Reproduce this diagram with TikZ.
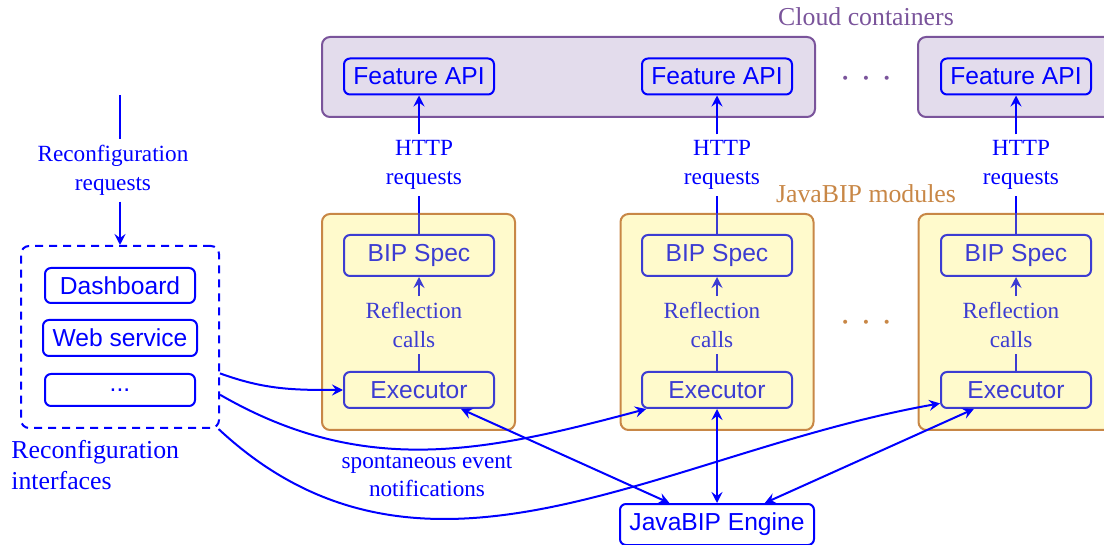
\documentclass[tikz,border=0pt]{standalone}
\usepackage{fontspec}
\setmainfont{Liberation Serif}
\newfontfamily\boxfont{Liberation Sans}
\usetikzlibrary{arrows.meta}
\definecolor{mblue}{RGB}{0,0,255}
\definecolor{inblue}{RGB}{60,60,210}
\definecolor{cfill}{RGB}{227,220,236}
\definecolor{cdraw}{RGB}{122,84,155}
\definecolor{jfill}{RGB}{255,250,204}
\definecolor{jdraw}{RGB}{200,135,70}
\begin{document}
\begin{tikzpicture}[x=0.5pt,y=-0.5pt,
  lbl/.style={font=\fontsize{11.6}{14.2}\selectfont, text=mblue, align=center, inner sep=3pt},
  hdr/.style={font=\fontsize{12.9}{15}\selectfont, inner sep=0pt},
  dots/.style={font=\fontsize{17}{17}\selectfont, inner sep=0pt},
  sbox/.style={draw=mblue, text=mblue, line width=1pt, rounded corners=3pt,
    font=\boxfont\fontsize{12.3}{14.6}\selectfont, minimum width=75pt, minimum height=18pt, inner sep=0pt},
  ibox/.style={sbox, draw=inblue, text=inblue, fill=jfill},
  cont/.style={draw=cdraw, fill=cfill, line width=1pt, rounded corners=4pt, minimum height=40pt, inner sep=0pt},
  modbox/.style={draw=jdraw, fill=jfill, line width=1pt, rounded corners=4pt, minimum width=96.5pt, minimum height=108pt, inner sep=0pt},
  ln/.style={draw=mblue, line width=1pt},
  tip/.tip={Stealth[length=5.5pt,width=5.5pt,inset=2pt]},
  arr/.style={ln, -tip},
  darr/.style={ln, tip-tip}
]
\useasboundingbox (0,0) rectangle (1104,545);
\clip (0,0) rectangle (1104,545);

% cloud containers
\node[cont, minimum width=246.5pt] (cont1) at (568.5,77) {};
\node[cont, minimum width=97pt] (cont2) at (1015,77) {};
\node[hdr, text=cdraw] (cloudlbl) at (866,17) {Cloud containers};
\node[dots, text=cdraw] (clouddots) at (866,83) {·\hspace{4.7pt}·\hspace{4.7pt}·};

\node[sbox] (feat1) at (419,76.5) {Feature API};
\node[sbox] (feat2) at (717,76.5) {Feature API};
\node[sbox] (feat3) at (1016,76.5) {Feature API};

% JavaBIP modules
\node[modbox] (mod1) at (418.5,322) {};
\node[modbox] (mod2) at (717,322) {};
\node[modbox] (mod3) at (1015,322) {};
\node[hdr, text=jdraw] (modlbl) at (866,194) {JavaBIP modules};
\node[dots, text=jdraw] (moddots) at (866,327) {·\hspace{4.7pt}·\hspace{4.7pt}·};

\foreach \i/\x in {1/419,2/717,3/1016}{
  \node[ibox, minimum height=20.5pt] (bip\i) at (\x,255.5) {BIP Spec};
  \node[ibox] (exec\i) at (\x,390) {Executor};
  \node[lbl, text=inblue] (ref\i) at (\x-5,325) {Reflection\\calls};
  \node[lbl] (http\i) at (\x+5,165) {HTTP\\requests};
  \draw[arr] (http\i.north -| feat\i) -- (feat\i.south);
  \draw[ln, draw=inblue] (bip\i.north) -- (bip\i.north |- mod\i.north);
  \draw[ln] (bip\i.north |- mod\i.north) -- (bip\i.north |- http\i.south);
  \draw[arr, draw=inblue] (ref\i.north -| bip\i) -- (bip\i.south);
  \draw[ln, draw=inblue] (exec\i.north) -- (exec\i.north |- ref\i.south);
}

% engine
\node[sbox, fill=white, minimum width=97pt, minimum height=20.5pt] (engine) at (717,524.5) {JavaBIP Engine};
\draw[darr] (exec1) -- (engine);
\draw[darr] (exec2) -- (engine);
\draw[darr] (exec3) -- (engine);

% reconfiguration interfaces
\node[draw=mblue, line width=1pt, dash pattern=on 4pt off 3pt, rounded corners=4pt,
  minimum width=99pt, minimum height=91pt, inner sep=0pt] (dbox) at (120,337) {};
\node[sbox, minimum height=17.5pt] (dash) at (120,285.5) {Dashboard};
\node[sbox, minimum width=77pt] (web) at (120,338) {Web service};
\node[sbox, minimum height=16pt] (more) at (120,390) {...};

\node[lbl] (rreq) at (113,170.5) {Reconfiguration\\requests};
\coordinate (rtop) at (120,95);
\draw[ln] (rtop) -- (rtop |- rreq.north);
\draw[arr] (rtop |- rreq.south) -- (dbox.north);

\node[lbl, font=\fontsize{12.9}{15.5}\selectfont, align=left, anchor=north west, inner sep=0pt] (rint) at (11,440) {Reconfiguration\\interfaces};

% event notifications
\draw[arr] (dbox) to[out=-20,in=180] (exec1);
\draw[arr] (dbox) to[out=-30,in=195] (exec2);
\draw[arr] (dbox) to[out=-43,in=190] (exec3);
\node[lbl] (spont) at (427,476) {spontaneous event\\notifications};
\end{tikzpicture}
\end{document}
